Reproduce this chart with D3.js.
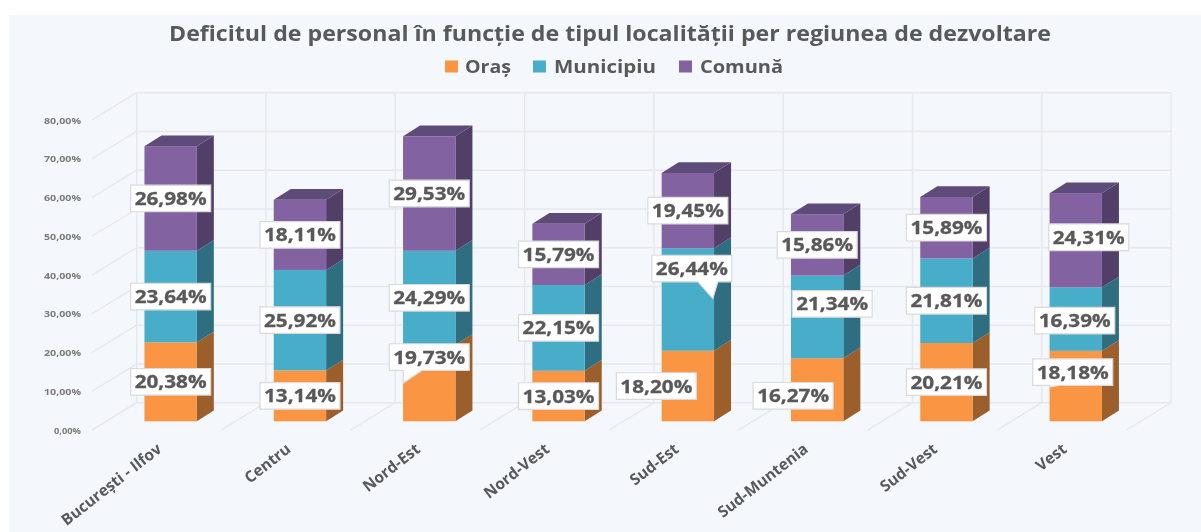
<!DOCTYPE html>
<html><head><meta charset="utf-8">
<script src="https://cdn.jsdelivr.net/npm/d3@7/dist/d3.min.js"></script>
<style>
html,body{margin:0;padding:0;background:#fff}
svg{display:block;filter:blur(0.45px)}
text{font-family:"Open Sans",sans-serif;font-weight:700;fill:#595959}
</style></head><body><svg id="c" width="1201" height="532"></svg>
<script>
// ---- data ----
const categories = ["București - Ilfov","Centru","Nord-Est","Nord-Vest","Sud-Est","Sud-Muntenia","Sud-Vest","Vest"];
const seriesNames = ["Oraș","Municipiu","Comună"];
const oras      = [20.38,13.14,19.73,13.03,18.20,16.27,20.21,18.18];
const municipiu = [23.64,25.92,24.29,22.15,26.44,21.34,21.81,16.39];
const comuna    = [26.98,18.11,29.53,15.79,19.45,15.86,15.89,24.31];
const yTicks = [0,10,20,30,40,50,60,70,80];
const yTickLabels = ["0,00%","10,00%","20,00%","30,00%","40,00%","50,00%","60,00%","70,00%","80,00%"];
const titleText = "Deficitul de personal în funcție de tipul localității per regiunea de dezvoltare";

// ---- style / layout ----
const front = ["#F99543","#48ADC8","#8262A1"];
const side  = ["#9C5F2B","#2F6E80","#523F68"];
const topFace = ["#B06C30","#38808F","#5F4B79"];
const W=1201,H=532, depthX=44.7, depthY=27.3, barDX=17, barDY=10.7;
const legendPos=[{sq:445,tx:465,w:46},{sq:533,tx:554,w:102},{sq:679,tx:700,w:83}];
// label offsets from the segment centre: [series][category] = [dx,dy]
const nudge = {
  "0,2":[0,-26],"0,4":[-31.5,0],"0,5":[-24,6],"0,7":[-3,-14],
  "1,4":[4,-31],"1,5":[15,-13],"1,7":[-1,1.5],"2,7":[13,-3]
};
// callout tails: [series,cat] -> base x0, base x1, tip (relative to box centre)
const tails = {
  "0,2":{b0:-26,b1:-7,tx:-26,ty:26},
  "1,4":{b0:6,b1:26,tx:21,ty:30},
  "0,7":{b0:-23,b1:-13,tx:-23,ty:15}
};

const svg=d3.select("#c");
svg.append("rect").attr("width",W).attr("height",H).attr("fill","#fff");
svg.append("rect").attr("x",9).attr("y",15).attr("width",W-9).attr("height",H-15).attr("fill","#F4F7FB");

// ---- scales ----
const x=d3.scaleBand().domain(categories).range([106,106+8*129.3]).paddingInner(0.595).paddingOuter(0.2975);
const yBar=d3.scaleLinear().domain([0,80]).range([421.3,111.3]);
const yFront=d3.scaleLinear().domain([0,80]).range([430,120]);
const yBack=d3.scaleLinear().domain([0,80]).range([402.7,92.7]);
const floorX=d3.scaleLinear().domain([0,8]).range([92,92+8*129.3]);

// ---- walls ----
const grid=svg.append("g").attr("stroke","#E6E8EC").attr("stroke-width",1.4).attr("fill","none");
const backL=floorX(0)+depthX, backR=floorX(8)+depthX;
yTicks.forEach(t=>{
  grid.append("line").attr("x1",backL).attr("x2",backR).attr("y1",yBack(t)).attr("y2",yBack(t));
  grid.append("line").attr("x1",floorX(0)).attr("x2",backL).attr("y1",yFront(t)).attr("y2",yBack(t));
});
d3.range(0,9).forEach(k=>{
  grid.append("line").attr("x1",floorX(k)+depthX).attr("x2",floorX(k)+depthX).attr("y1",yBack(80)).attr("y2",yBack(0));
  grid.append("line").attr("x1",floorX(k)).attr("x2",floorX(k)+depthX).attr("y1",yFront(0)).attr("y2",yBack(0));
});

// ---- y axis ----
const axis=d3.axisLeft(yFront).tickValues(yTicks).tickSize(0).tickPadding(11)
  .tickFormat((d,i)=>yTickLabels[i]);
const ga=svg.append("g").attr("transform",`translate(${floorX(0)},0)`).call(axis);
ga.select(".domain").remove();
ga.selectAll("text").style("font-size","9.6px").style("font-family",'"Open Sans",sans-serif').style("fill","#7a7a7a")
  .attr("textLength",d=>d===0?27:37).attr("lengthAdjust","spacingAndGlyphs");

// ---- bars ----
const rows=categories.map((c,i)=>({cat:c,[seriesNames[0]]:oras[i],[seriesNames[1]]:municipiu[i],[seriesNames[2]]:comuna[i]}));
const stacked=d3.stack().keys(seriesNames)(rows);
const bars=svg.append("g");
stacked.forEach((s,si)=>{
  const g=bars.append("g");
  g.selectAll(".side").data(s).join("path").attr("fill",side[si]).attr("d",d=>{
    const xr=x(d.data.cat)+x.bandwidth();
    return `M${xr},${yBar(d[0])}L${xr+barDX},${yBar(d[0])-barDY}L${xr+barDX},${yBar(d[1])-barDY}L${xr},${yBar(d[1])}Z`;
  });
  g.selectAll(".front").data(s).join("rect").attr("fill",front[si])
    .attr("x",d=>x(d.data.cat)).attr("width",x.bandwidth())
    .attr("y",d=>yBar(d[1])).attr("height",d=>yBar(d[0])-yBar(d[1]));
  if(si===stacked.length-1){
    g.selectAll(".topf").data(s).join("path").attr("fill",topFace[si]).attr("d",d=>{
      const xl=x(d.data.cat),xr=xl+x.bandwidth(),y=yBar(d[1]);
      return `M${xl},${y}L${xl+barDX},${y-barDY}L${xr+barDX},${y-barDY}L${xr},${y}Z`;
    });
  }
});

// ---- data labels ----
const bw=80,bh=26.6;
const labels=svg.append("g");
stacked.forEach((s,si)=>{
  s.forEach((d,ci)=>{
    const key=si+","+ci, n=nudge[key]||[0,0];
    const cx=x(d.data.cat)+x.bandwidth()/2+n[0], cy=yBar((d[0]+d[1])/2)+n[1];
    const t=tails[key];
    const x0=cx-bw/2,x1=cx+bw/2,y0=cy-bh/2,y1=cy+bh/2;
    const tail=t?`H${cx+t.b1}L${cx+t.tx},${cy+t.ty}L${cx+t.b0},${y1}`:"";
    labels.append("path").attr("d",`M${x0},${y0}H${x1}V${y1}${tail}H${x0}Z`)
      .attr("fill","#fff").attr("stroke","#DADADA").attr("stroke-width",1.2);
    labels.append("text").attr("x",cx).attr("y",cy+6.5).attr("text-anchor","middle")
      .attr("font-size",18).attr("textLength",72).attr("lengthAdjust","spacingAndGlyphs")
      .attr("stroke","#595959").attr("stroke-width",0.3)
      .text(d3.format(".2f")(d[1]-d[0]).replace(".",",")+"%");
  });
});

// ---- category labels ----
svg.append("g").selectAll("text").data(categories).join("text")
  .attr("text-anchor","end").attr("font-size",15.6)
  .attr("transform",d=>`translate(${x(d)+x.bandwidth()/2-8},${451}) rotate(-38)`)
  .text(d=>d);

// ---- title and legend ----
svg.append("text").attr("x",169).attr("y",41).attr("font-size",21)
  .attr("textLength",882).attr("lengthAdjust","spacingAndGlyphs").text(titleText);
const lg=svg.append("g");
seriesNames.forEach((n,i)=>{
  lg.append("rect").attr("x",legendPos[i].sq).attr("y",60.5).attr("width",13).attr("height",12).attr("fill",front[i]);
  lg.append("text").attr("x",legendPos[i].tx).attr("y",72.5).attr("font-size",17)
    .attr("textLength",legendPos[i].w).attr("lengthAdjust","spacingAndGlyphs").text(n);
});
</script></body></html>
